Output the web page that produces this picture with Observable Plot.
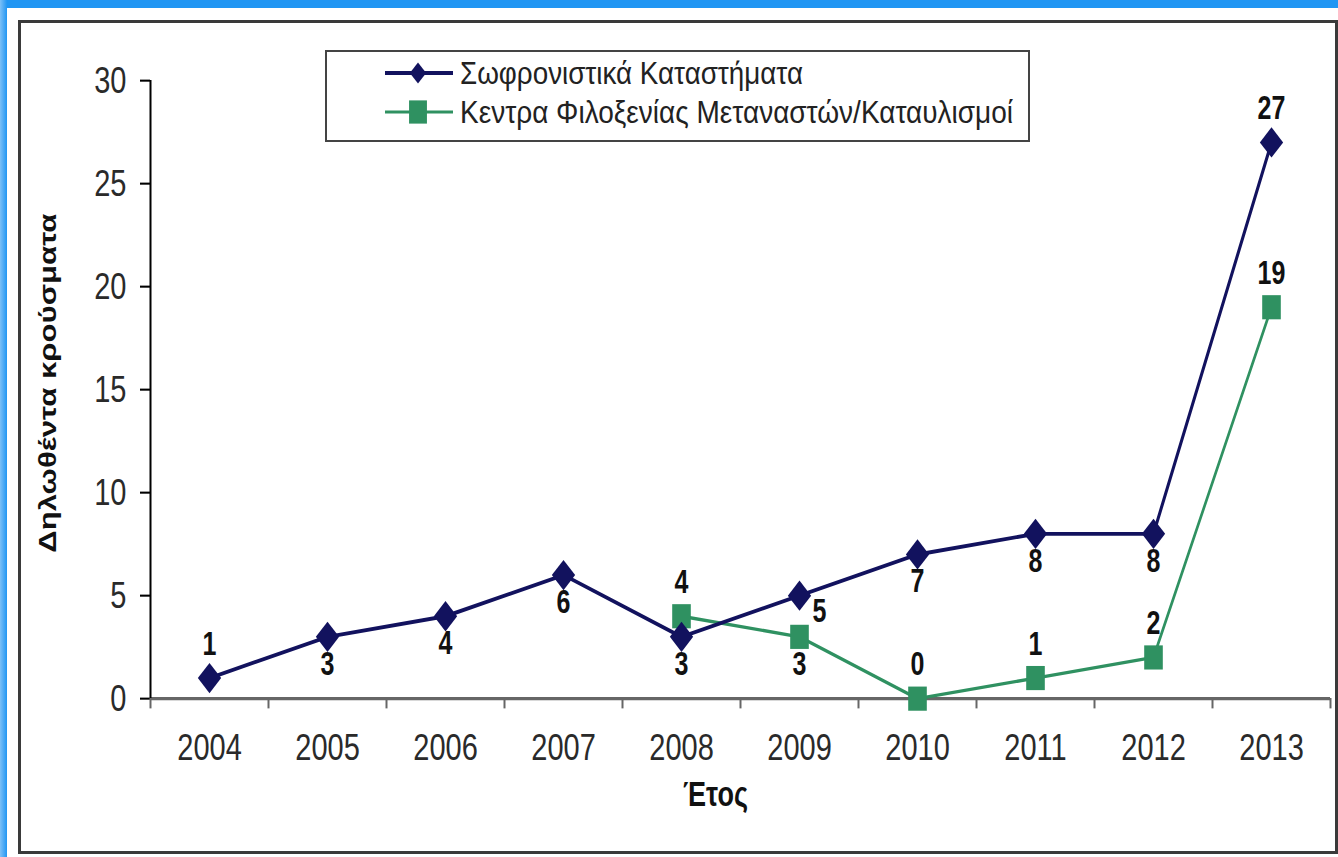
<!DOCTYPE html>
<html>
<head>
<meta charset="utf-8">
<script src="https://cdn.jsdelivr.net/npm/d3@7"></script>
<script src="https://cdn.jsdelivr.net/npm/@observablehq/plot@0.6"></script>
<style>
html, body { margin: 0; padding: 0; width: 1338px; height: 857px; overflow: hidden; }
body { position: relative; background: linear-gradient(90deg, #7cc0f7 0px, #2196f3 7px, #2196f3 100%); font-family: "Liberation Sans", Arial, sans-serif; }
#panel { position: absolute; left: 7px; top: 8px; width: 1331px; height: 849px; background: #fff; }
#frame { position: absolute; left: 18px; top: 20px; width: 1314px; height: 828px; border: 3px solid #3a3a3a; }
#chart { position: absolute; left: 0; top: 0; width: 1338px; height: 857px; }
#legend { position: absolute; left: 325px; top: 50px; width: 701px; height: 88px; border: 2px solid #444; background: #fff; }
</style>
</head>
<body>
<div id="panel"></div>
<div id="frame"></div>
<div id="chart"></div>
<div id="legend"></div>
<script>
// ---- data ----
const years = ["2004", "2005", "2006", "2007", "2008", "2009", "2010", "2011", "2012", "2013"];
const prisons = [1, 3, 4, 6, 3, 5, 7, 8, 8, 27];
const centers = [null, null, null, null, 4, 3, 0, 1, 2, 19];
const seriesNames = ["Σωφρονιστικά Καταστήματα", "Κεντρα Φιλοξενίας Μεταναστών/Καταυλισμοί"];
const yTicks = [0, 5, 10, 15, 20, 25, 30];
const yTitle = "Δηλωθέντα κρούσματα";
const xTitle = "Έτος";

// label placement (Excel-like positions)
const prisonLabelPos = {"2004": "above", "2009": "right", "2013": "above"};
const centerLabelPos = {"2009": "below"};

// ---- styles ----
const navy = "#12125e";
const green = "#2f9161";
const S = 857 / 660;            // vertical stretch of the original picture
const W = 1338, H = 660;
const mL = 150, mR = 8, mT = 80 / S, mB = H - 698 / S;
const half = (W - mL - mR) / years.length / 2;

const rowsP = years.map((year, i) => ({year, value: prisons[i], pos: prisonLabelPos[year] || "below"}));
const rowsC = years.map((year, i) => ({year, value: centers[i], pos: centerLabelPos[year] || "above"}))
  .filter(d => d.value != null);

const labelMarks = (rows, pos, opts) => Plot.text(rows.filter(d => d.pos === pos), {
  x: "year", y: "value", text: d => String(d.value),
  fontWeight: "bold", fontSize: 25, fill: "#111", ...opts
});
const offsets = {above: {dy: -26}, below: {dy: 21}, right: {dx: 20, dy: 12}};

const chart = Plot.plot({
  width: W, height: H,
  marginLeft: mL, marginRight: mR, marginTop: mT, marginBottom: mB,
  style: {background: "transparent", overflow: "visible", fontFamily: "'Liberation Sans', Arial, sans-serif"},
  x: {type: "point", domain: years, padding: 0.5, align: 0.5, label: null},
  y: {domain: [0, 30], label: null},
  marks: [
    Plot.axisY({ticks: yTicks, tickSize: 10, tickPadding: 14, fontSize: 29, fill: "#2a2a2a", stroke: "#000", strokeWidth: 1.6, label: null}),
    Plot.axisX({tickSize: 0, tickPadding: 27, fontSize: 29, fill: "#2a2a2a", label: null}),
    // x axis line and category boundary ticks
    Plot.ruleY([0], {stroke: "#666", strokeWidth: 2.4}),
    Plot.ruleX(years, {x: d => d, dx: -half, y1: 0, y2: 0, insetBottom: -8, stroke: "#666", strokeWidth: 2}),
    Plot.ruleX(years.slice(-1), {x: d => d, dx: half, y1: 0, y2: 0, insetBottom: -8, stroke: "#666", strokeWidth: 2}),
    // y axis line
    Plot.ruleX(years.slice(0, 1), {x: d => d, dx: -half, y1: 0, y2: 30, stroke: "#000", strokeWidth: 2}),
    // series 2
    Plot.line(rowsC, {x: "year", y: "value", stroke: green, strokeWidth: 2.6}),
    Plot.dot(rowsC, {x: "year", y: "value", symbol: "square", r: 10.5, fill: green}),
    // series 1
    Plot.line(rowsP, {x: "year", y: "value", stroke: navy, strokeWidth: 3}),
    Plot.dot(rowsP, {x: "year", y: "value", symbol: "diamond2", r: 10.5, fill: navy}),
    // data labels
    ...["above", "below", "right"].map(p => labelMarks(rowsP, p, offsets[p])),
    ...["above", "below", "right"].map(p => labelMarks(rowsC, p, offsets[p])),
    // axis titles
    Plot.text([yTitle], {text: d => d, frameAnchor: "left", textAnchor: "middle", dx: -102, dy: -5, rotate: -90, fontWeight: "bold", fontSize: 24, fill: "#111"}),
    Plot.text([xTitle], {text: d => d, frameAnchor: "bottom", dx: -25, dy: (800 - 698) / S + 4.5, fontWeight: "bold", fontSize: 27, fill: "#111"})
  ]
});
chart.style.transformOrigin = "0 0";
chart.style.transform = `scaleY(${S})`;
document.getElementById("chart").appendChild(chart);

// ---- legend ----
const LW = 701, LH = 88;
const lg = d3.select("#legend").append("svg")
  .attr("width", LW).attr("height", LH)
  .attr("viewBox", `0 0 ${LW} ${LH / S}`)
  .attr("preserveAspectRatio", "none")
  .style("display", "block");
const legendItems = [
  {name: seriesNames[0], color: navy, symbol: d3.symbolDiamond2, size: 170, width: 3.2, len: 343},
  {name: seriesNames[1], color: green, symbol: d3.symbolSquare, size: 320, width: 2.4, len: 553}
];
const rowY = [21 / S, 60 / S];
legendItems.forEach((it, i) => {
  const g = lg.append("g").attr("transform", `translate(0,${rowY[i]})`);
  g.append("line").attr("x1", 58).attr("x2", 126).attr("y1", 0).attr("y2", 0)
    .attr("stroke", it.color).attr("stroke-width", it.width);
  g.append("path").attr("d", d3.symbol(it.symbol, it.size)()).attr("transform", "translate(91,0)").attr("fill", it.color);
  g.append("text").attr("x", 133).attr("y", 0).attr("dy", "0.35em")
    .attr("font-family", "'Liberation Sans', Arial, sans-serif").attr("font-size", 24).attr("fill", "#222")
    .attr("textLength", it.len).attr("lengthAdjust", "spacingAndGlyphs")
    .text(it.name);
});
</script>
</body>
</html>
